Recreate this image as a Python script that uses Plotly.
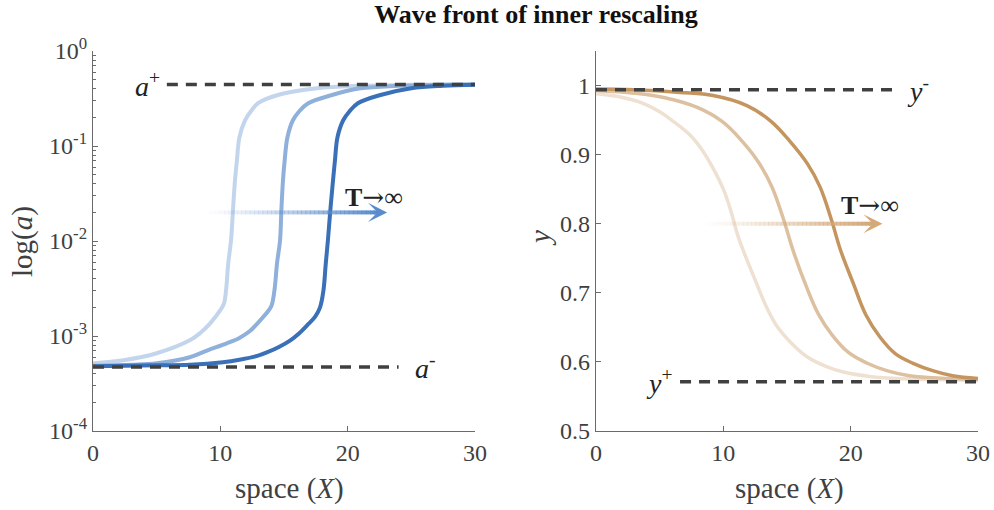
import plotly.graph_objects as go
import numpy as np

# ---------------- data ----------------
xa_light = [0, 2.4, 5, 7.6, 8.4, 9.2, 10.0, 10.29, 10.45, 10.62, 10.84, 11.0, 11.15, 11.3, 11.5, 11.94, 12.4, 12.96, 14.45, 17.6, 21, 25, 30]
a_light = [5.16e-4, 5.55e-4, 6.58e-4, 9.01e-4, 1.07e-3, 1.36e-3, 1.87e-3, 2.21e-3, 3.03e-3, 5.8e-3, 1.02e-2, 2.2e-2, 4.34e-2, 7.0e-2, 0.1236, 0.1866, 0.232, 0.282, 0.342, 0.405, 0.430, 0.440, 0.443]

xa_mid = [0, 3, 5, 7.6, 9, 10.5, 11.5, 12.3, 12.9, 13.5, 14.0, 14.25, 14.45, 14.69, 14.8, 14.92, 15.05, 15.27, 15.7, 16.2, 16.9, 18.7, 21, 24, 27, 30]
a_mid = [4.86e-4, 4.98e-4, 5.16e-4, 5.97e-4, 7.07e-4, 8.37e-4, 9.55e-4, 1.12e-3, 1.35e-3, 1.66e-3, 2.06e-3, 3.03e-3, 5.8e-3, 1.02e-2, 2.2e-2, 4.34e-2, 7.0e-2, 0.1236, 0.1866, 0.232, 0.282, 0.342, 0.405, 0.430, 0.440, 0.443]

xa_dark = [0, 5, 7.6, 10.2, 11.5, 12.9, 13.7, 14.6, 15.5, 16.2, 16.9, 17.45, 17.83, 18.1, 18.28, 18.45, 18.65, 18.85, 19.0, 19.2, 19.65, 20.15, 20.8, 22.5, 25, 27.5, 30]
a_dark = [4.80e-4, 4.92e-4, 4.98e-4, 5.29e-4, 5.62e-4, 6.17e-4, 6.76e-4, 7.67e-4, 9.01e-4, 1.07e-3, 1.33e-3, 1.60e-3, 2.0e-3, 3.03e-3, 5.8e-3, 1.02e-2, 2.2e-2, 4.34e-2, 7.0e-2, 0.1236, 0.1866, 0.232, 0.282, 0.342, 0.405, 0.430, 0.441]

xy_light = [0, 2, 3.5, 5, 6, 7.4, 8.4, 9.2, 10.0, 10.6, 11.15, 11.7, 12.6, 13.4, 14.2, 15.2, 16.6, 18, 19.5, 21.5, 24, 27, 30]
y_light = [0.988, 0.983, 0.9755, 0.962, 0.949, 0.928, 0.905, 0.880, 0.850, 0.818, 0.782, 0.755, 0.714, 0.679, 0.652, 0.630, 0.607, 0.594, 0.585, 0.579, 0.5755, 0.574, 0.5735]

xy_mid = [0, 3, 5.5, 8, 9.9, 11.4, 12.8, 13.8, 14.7, 15.5, 16.5, 17.5, 18.5, 19.8, 21.3, 22.9, 24.6, 26.5, 30]
y_mid = [0.993, 0.989, 0.982, 0.968, 0.948, 0.921, 0.888, 0.854, 0.808, 0.760, 0.710, 0.668, 0.640, 0.614, 0.598, 0.587, 0.580, 0.577, 0.5745]

xy_dark = [0, 3, 6.6, 9.2, 11.85, 13.7, 15.2, 16.6, 17.6, 18.5, 19.2, 20.2, 21.2, 22.3, 23.5, 24.9, 26.5, 28, 30]
y_dark = [0.995, 0.994, 0.990, 0.9855, 0.971, 0.949, 0.920, 0.887, 0.853, 0.805, 0.762, 0.714, 0.668, 0.636, 0.612, 0.598, 0.587, 0.580, 0.576]

a_plus, a_minus = 0.443, 4.72e-4
a_plus_x = [5.8, 30]
a_minus_x = [0, 24]
y_minus, y_plus = 0.9938, 0.5713
y_minus_x = [0, 23.5]
y_plus_x = [6.6, 30]

arrow_left = dict(x0=8.6, x1=23.1, y=0.02)
arrow_right = dict(x0=8.2, x1=22.5, y=0.8)

x_ticks = [0, 10, 20, 30]
log_tickvals = [1e-4, 1e-3, 1e-2, 1e-1, 1]
log_ticktext = ["10<sup>-4</sup>", "10<sup>-3</sup>", "10<sup>-2</sup>", "10<sup>-1</sup>", "10<sup>0</sup>"]
lin_tickvals = [0.5, 0.6, 0.7, 0.8, 0.9, 1.0]
lin_ticktext = ["0.5", "0.6", "0.7", "0.8", "0.9", "1"]

# ---------------- styles ----------------
FONT = "Liberation Serif"
TXT = "#404040"
AX = "#6a6a6a"
blues = ["#c3d5ec", "#8eb0da", "#3a70b8"]
browns = ["#efe1d2", "#dcc0a0", "#c4955e"]
DASH = "#404040"

W, H = 994, 510


def px(x):
    return x / W


def py(y):
    return 1 - y / H


fig = go.Figure()

for xs, ys, c in zip([xa_light, xa_mid, xa_dark], [a_light, a_mid, a_dark], blues):
    fig.add_trace(go.Scatter(x=xs, y=ys, mode="lines", line=dict(color=c, width=4, shape="spline", smoothing=1.0),
                             xaxis="x", yaxis="y", showlegend=False, hoverinfo="skip"))
for xs, ys, c in zip([xy_light, xy_mid, xy_dark], [y_light, y_mid, y_dark], browns):
    fig.add_trace(go.Scatter(x=xs, y=ys, mode="lines", line=dict(color=c, width=3.5, shape="spline", smoothing=1.1),
                             xaxis="x2", yaxis="y2", showlegend=False, hoverinfo="skip"))

dash_style = dict(color=DASH, width=3.5, dash="11px,8px")
fig.add_trace(go.Scatter(x=a_plus_x, y=[a_plus] * 2, mode="lines", line=dash_style, xaxis="x", yaxis="y", showlegend=False))
fig.add_trace(go.Scatter(x=a_minus_x, y=[a_minus] * 2, mode="lines", line=dash_style, xaxis="x", yaxis="y", showlegend=False))
fig.add_trace(go.Scatter(x=y_minus_x, y=[y_minus] * 2, mode="lines", line=dash_style, xaxis="x2", yaxis="y2", showlegend=False))
fig.add_trace(go.Scatter(x=y_plus_x, y=[y_plus] * 2, mode="lines", line=dash_style, xaxis="x2", yaxis="y2", showlegend=False))


def grad_arrow(arr, rgb, xa, ya, ylog):
    n = 40
    shaft_end = arr["x1"] - 1.0
    edges = np.linspace(arr["x0"], shaft_end, n + 1)
    for i in range(n):
        op = ((i + 0.5) / n) ** 1.3
        fig.add_trace(go.Scatter(x=[edges[i], edges[i + 1] + 0.05], y=[arr["y"]] * 2, mode="lines",
                                 line=dict(color=f"rgba({rgb},{op:.3f})", width=4),
                                 xaxis=xa, yaxis=ya, showlegend=False, hoverinfo="skip"))
    yv = np.log10(arr["y"]) if ylog else arr["y"]
    fig.add_annotation(x=arr["x1"], y=yv, xref=xa, yref=ya, ax=-15, ay=0, axref="pixel", ayref="pixel",
                       showarrow=True, arrowhead=3, arrowsize=0.8, arrowwidth=4, arrowcolor=f"rgb({rgb})",
                       text="", standoff=0, startstandoff=0)


grad_arrow(arrow_left, "90,140,204", "x", "y", True)
grad_arrow(arrow_right, "212,168,120", "x2", "y2", False)

tinf_font = dict(family=FONT, size=26, color="#222")
tinf = "<b>T</b><span style='font-family:DejaVu Serif'>→</span>∞"
fig.add_annotation(x=22.1, y=np.log10(0.029), xref="x", yref="y", text=tinf, showarrow=False, font=tinf_font)
fig.add_annotation(x=21.5, y=0.827, xref="x2", yref="y2", text=tinf, showarrow=False, font=tinf_font)

lab_font = dict(family=FONT, size=28, color="#222")
fig.add_annotation(x=4.3, y=np.log10(a_plus), xref="x", yref="y", text="<i>a</i><sup>+</sup>", showarrow=False, font=lab_font)
fig.add_annotation(x=26.1, y=np.log10(a_minus), xref="x", yref="y", text="<i>a</i><sup>-</sup>", showarrow=False, font=lab_font)
fig.add_annotation(x=25.3, y=y_minus, xref="x2", yref="y2", text="<i>y</i><sup>-</sup>", showarrow=False, font=lab_font)
fig.add_annotation(x=5.0, y=y_plus, xref="x2", yref="y2", text="<i>y</i><sup>+</sup>", showarrow=False, font=lab_font)

tfont = dict(family=FONT, size=29, color=TXT)
common_ann = dict(xref="paper", yref="paper", showarrow=False, font=tfont, xanchor="center", yanchor="middle")
fig.add_annotation(x=px(289), y=py(488), text="space (<i>X</i>)", **common_ann)
fig.add_annotation(x=px(789), y=py(488), text="space (<i>X</i>)", **common_ann)
fig.add_annotation(x=px(22), y=py(242), text="log(<i>a</i>)", textangle=-90, **common_ann)
fig.add_annotation(x=px(540), y=py(238), text="<i>y</i>", textangle=-90, **common_ann)

axis_common = dict(showline=True, linecolor=AX, linewidth=1.3, mirror=False, ticks="inside", ticklen=5,
                   tickcolor=AX, showgrid=False, zeroline=False, automargin=False,
                   tickfont=dict(family=FONT, size=24, color=TXT))

fig.update_layout(
    width=W, height=H,
    margin=dict(l=0, r=0, t=0, b=0, autoexpand=False),
    paper_bgcolor="white", plot_bgcolor="white",
    title=dict(text="<b>Wave front of inner rescaling</b>", x=px(536), y=py(14), xanchor="center", yanchor="middle",
               font=dict(family=FONT, size=26, color="#111"), automargin=False),
    xaxis=dict(domain=[px(93), px(475)], range=[0, 30], tickvals=x_ticks, anchor="y", **axis_common),
    yaxis=dict(domain=[py(431), py(51)], type="log", range=[-4, 0], tickvals=log_tickvals, ticktext=log_ticktext,
               anchor="x",
               minor=dict(ticks="inside", ticklen=3, tickcolor=AX,
                          tickvals=[m * 10.0 ** e for e in range(-4, 0) for m in range(2, 10)]),
               **axis_common),
    xaxis2=dict(domain=[px(596), px(978)], range=[0, 30], tickvals=x_ticks, anchor="y2", **axis_common),
    yaxis2=dict(domain=[py(431), py(51)], range=[0.5, 1.05], tickvals=lin_tickvals, ticktext=lin_ticktext,
                anchor="x2", **axis_common),
)

# remove the browser's default 8px body margin so the 994x510 figure fills the window exactly
fig.write_html("out.html", config={"displayModeBar": False},
               post_script="document.body.style.margin='0px';document.body.style.overflow='hidden';")
